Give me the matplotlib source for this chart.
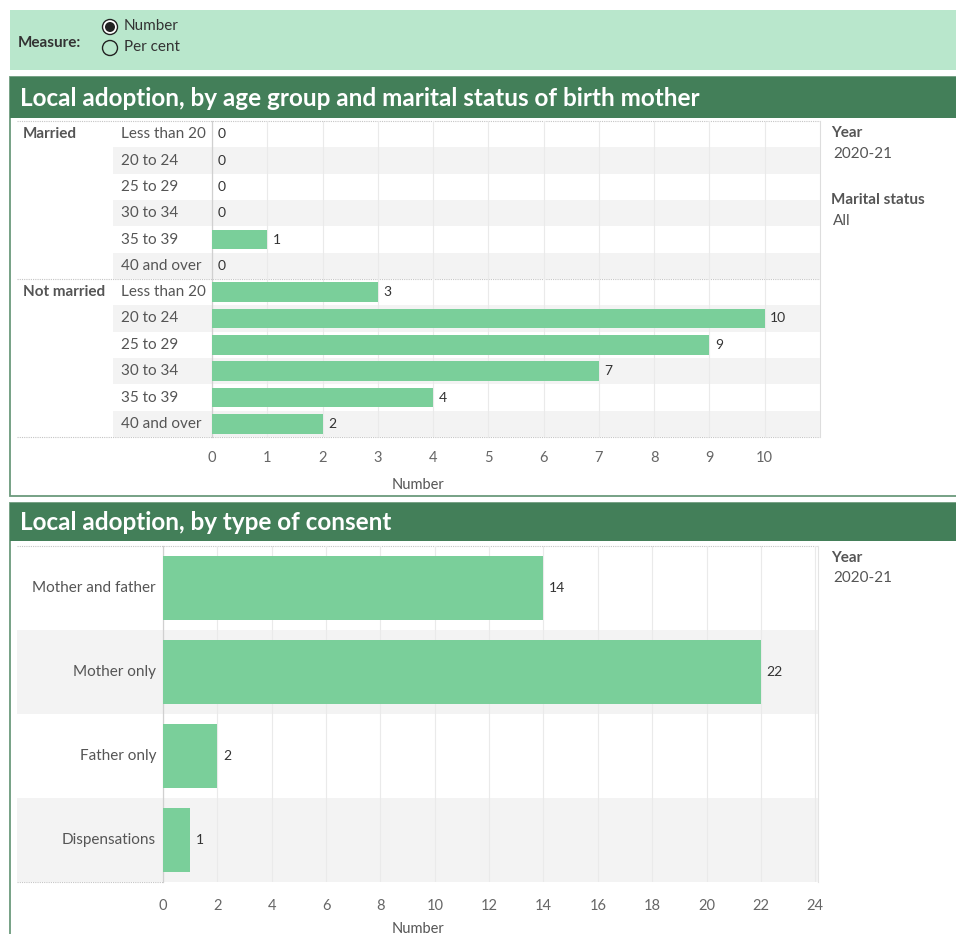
import matplotlib
matplotlib.use('Agg')
import matplotlib.pyplot as plt
from matplotlib.patches import Rectangle, Circle
import matplotlib.transforms as mtransforms

plt.rcParams['font.family'] = ['Lato', 'DejaVu Sans']

# ── Data ──
age_groups = ['Less than 20', '20 to 24', '25 to 29', '30 to 34', '35 to 39', '40 and over']
marital_groups = ['Married', 'Not married']
married_counts = [0, 0, 0, 0, 1, 0]
not_married_counts = [3, 10, 9, 7, 4, 2]
age_ticks = list(range(0, 11))

consent_types = ['Mother and father', 'Mother only', 'Father only', 'Dispensations']
consent_counts = [14, 22, 2, 1]
consent_ticks = list(range(0, 25, 2))

year = '2020-21'

# ── Palette ──
BAR = '#7acf9a'
HEAD = '#437f59'
BAND = '#b9e7cc'
SHADE = '#f3f3f3'
GRID = '#eaeaea'
TXT = '#555555'
DARK = '#333333'
DOT = '#c4c4c4'

FS = 11       # body text
FS_TICK = 10.5
FS_VAL = 10

W, H = 956, 934
fig = plt.figure(figsize=(W / 100, H / 100), dpi=100)
fig.patch.set_facecolor('white')


def rect(x0, y0, x1, y1):
    """Pixel box (y from the top) -> figure fraction rect."""
    return [x0 / W, 1 - y1 / H, (x1 - x0) / W, (y1 - y0) / H]


# background canvas in pixel units
bg = fig.add_axes([0, 0, 1, 1], zorder=0)
bg.set_xlim(0, W)
bg.set_ylim(H, 0)
bg.axis('off')

# ── Measure selector ──
bg.add_patch(Rectangle((10, 10), 946, 60, fc=BAND, ec='none'))
bg.text(18, 43, 'Measure:', fontsize=FS, fontweight='bold', color=DARK, va='center')
bg.add_patch(Circle((110, 27), 7.5, fc='white', ec='#222222', lw=1.0))
bg.add_patch(Circle((110, 27), 5, fc='#222222', ec='none'))
bg.add_patch(Circle((110, 48), 7.5, fc='none', ec='#222222', lw=1.0))
bg.text(124, 26, 'Number', fontsize=FS, color=DARK, va='center')
bg.text(124, 47, 'Per cent', fontsize=FS, color=DARK, va='center')

# ── Panel frames ──
for top, head_bot, bot, title in [
        (77, 118, 496, 'Local adoption, by age group and marital status of birth mother'),
        (503, 541, 945, 'Local adoption, by type of consent')]:
    bg.add_patch(Rectangle((10, top), 960, bot - top, fc='white', ec='#6b9a7c', lw=1.3))
    bg.add_patch(Rectangle((10, top), 960, head_bot - top, fc=HEAD, ec='none'))
    bg.text(20, (top + head_bot) / 2 + 1, title, color='white', fontsize=17.5,
            fontweight='bold', va='center')

# dotted pane borders
for y, x0, x1 in [(121, 17, 820), (279, 17, 820), (437, 17, 820),
                  (546, 17, 818), (882, 17, 163)]:
    bg.plot([x0, x1], [y, y], ls=(0, (1, 1)), color=DOT, lw=0.8)
bg.plot([820, 820], [121, 437], color='#dddddd', lw=0.8)
bg.plot([818, 818], [546, 882], color='#e4e4e4', lw=0.8)

# axis titles, centred across each pane
bg.text(418, 485, 'Number', fontsize=FS_TICK, color=TXT, ha='center', va='center')
bg.text(418, 929, 'Number', fontsize=FS_TICK, color=TXT, ha='center', va='center')

# ── Side captions ──
bg.text(831, 133, 'Year', fontsize=FS, fontweight='bold', color=TXT, va='center')
bg.text(833, 154, year, fontsize=FS, color=TXT, va='center')
bg.text(831, 200, 'Marital status', fontsize=FS, fontweight='bold', color=TXT, va='center')
bg.text(833, 221, 'All', fontsize=FS, color=TXT, va='center')
bg.text(831, 558, 'Year', fontsize=FS, fontweight='bold', color=TXT, va='center')
bg.text(833, 578, year, fontsize=FS, color=TXT, va='center')


def style_axis(ax, ticks):
    ax.set_facecolor('none')
    ax.set_xticks(ticks)
    ax.set_yticks([])
    ax.set_axisbelow(True)
    ax.xaxis.grid(True, color=GRID, lw=0.8)
    for s in ('top', 'right', 'bottom'):
        ax.spines[s].set_visible(False)
    ax.spines['left'].set_color('#d0d0d0')
    ax.spines['left'].set_linewidth(0.9)
    ax.tick_params(axis='x', length=0, labelsize=FS_TICK, labelcolor='#666666')


# ── Chart 1: age group x marital status ──
ax1 = fig.add_axes(rect(212, 121, 820, 437), zorder=1)
values1 = married_counts + not_married_counts
labels1 = age_groups * len(marital_groups)
rows1 = list(range(len(values1)))
ax1.set_xlim(0, 11)
ax1.set_ylim(len(rows1) - 0.5, -0.5)
style_axis(ax1, age_ticks)
ax1.tick_params(axis='x', pad=10)

tr1 = mtransforms.blended_transform_factory(ax1.transAxes, ax1.transData)
shade_x1 = (113 - 212) / 608
for i in rows1:
    if i % 2 == 1:
        ax1.add_patch(Rectangle((shade_x1, i - 0.5), 1 - shade_x1, 1, transform=tr1,
                                fc=SHADE, ec='none', clip_on=False, zorder=0))
    ax1.text((121 - 212) / 608, i, labels1[i], transform=tr1, ha='left', va='center',
             fontsize=FS, color=TXT)

for g, name in enumerate(marital_groups):
    ax1.text((23 - 212) / 608, g * len(age_groups), name, transform=tr1, ha='left',
             va='center', fontsize=FS, fontweight='bold', color=TXT)

ax1.barh(rows1, values1, height=0.74, color=BAR, zorder=3)
for i, v in zip(rows1, values1):
    ax1.annotate(str(v), xy=(v, i), xytext=(4, 0), textcoords='offset points',
                 va='center', fontsize=FS_VAL, color=DARK)

# ── Chart 2: type of consent ──
ax2 = fig.add_axes(rect(163, 546, 818, 882), zorder=1)
rows2 = list(range(len(consent_types)))
ax2.set_xlim(0, 24.1)
ax2.set_ylim(len(rows2) - 0.5, -0.5)
style_axis(ax2, consent_ticks)
ax2.tick_params(axis='x', pad=12)

tr2 = mtransforms.blended_transform_factory(ax2.transAxes, ax2.transData)
shade_x2 = (17 - 163) / 655
for i in rows2:
    if i % 2 == 1:
        ax2.add_patch(Rectangle((shade_x2, i - 0.5), 1 - shade_x2, 1, transform=tr2,
                                fc=SHADE, ec='none', clip_on=False, zorder=0))
    ax2.text((156 - 163) / 655, i, consent_types[i], transform=tr2, ha='right',
             va='center', fontsize=FS, color=TXT)

ax2.barh(rows2, consent_counts, height=0.76, color=BAR, zorder=3)
for i, v in zip(rows2, consent_counts):
    ax2.annotate(str(v), xy=(v, i), xytext=(4, 0), textcoords='offset points',
                 va='center', fontsize=FS_VAL, color=DARK)

fig.savefig('out.png', dpi=100, facecolor='white')
